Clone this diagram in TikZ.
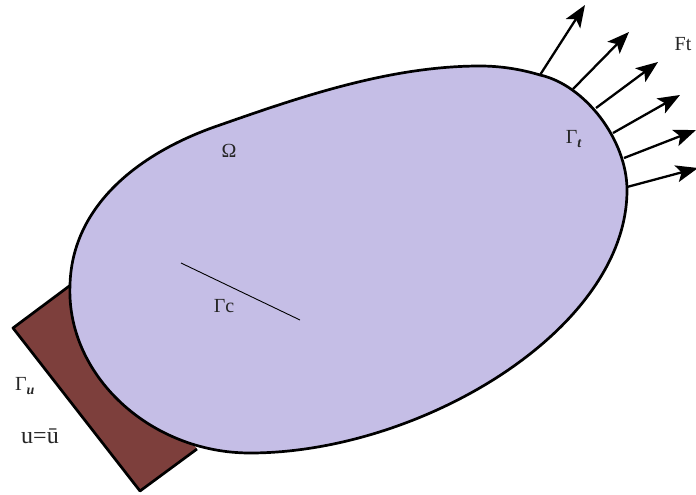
\documentclass[tikz,border=0pt]{standalone}
\usepackage{fontspec}
\setmainfont{Liberation Serif}
\usetikzlibrary{arrows.meta}

\definecolor{domainfill}{HTML}{C5BEE6}
\definecolor{soilfill}{HTML}{7D3F3C}

\begin{document}
\begin{tikzpicture}[x=1pt, y=-1pt,
    lbl/.style={inner sep=0pt, font=\fontsize{20}{20}\selectfont, text=black!85},
    load/.style={line width=2.3pt, -{Stealth[length=22pt, width=17pt, inset=5pt]}}]

      \useasboundingbox (0,0) rectangle (696,495);

      % support block
      \coordinate (s1) at (13,328);
      \coordinate (s2) at (140,491);
      \coordinate (s3) at (197,449);
      \coordinate (s4) at (72,284);
      \filldraw[fill=soilfill, line width=2.7pt, line join=round] (s4) -- (s1) -- (s2) -- (s3);

      % loads
      \coordinate (a1) at (540,75);  \coordinate (b1) at (585,5);
      \coordinate (a2) at (573,89);  \coordinate (b2) at (629,32);
      \coordinate (a3) at (596,108); \coordinate (b3) at (658,62);
      \coordinate (a4) at (613,133); \coordinate (b4) at (680,95);
      \coordinate (a5) at (624,158); \coordinate (b5) at (696,130);
      \coordinate (a6) at (627,187); \coordinate (b6) at (698,168);

      \foreach \j in {1,...,6} {
        \draw[load] (a\j) -- (b\j);
      }

      % domain
      \filldraw[fill=domainfill, line width=2.7pt] (627,190)
        .. controls (627,140) and (585,85) .. (540,75)
        .. controls (520,69) and (500,66) .. (480,66)
        .. controls (390,66) and (300,97) .. (220,125)
        .. controls (140,152) and (72,205) .. (70,285)
        .. controls (66,375) and (150,453) .. (250,453)
        .. controls (420,453) and (627,330) .. cycle;

      % crack
      \coordinate (c1) at (181,263);
      \coordinate (c2) at (300,320);
      \draw[line width=0.9pt] (c1) -- (c2);

      \node[lbl] (ft) at (683,44) {Ft};
      \node[lbl] (gammat) at (574,139) {Γ\textsubscript{\textbf{\textit{t}}}};
      \node[lbl] (omega) at (229,151) {Ω};
      \node[lbl] (gammac) at (224,306) {Γc};
      \node[lbl] (gammau) at (25,386) {Γ\textsubscript{\textbf{\textit{u}}}};
      \node[lbl, font=\fontsize{24}{24}\selectfont] (ubar) at (40,436) {u=ū};
    \end{tikzpicture}
\end{document}
